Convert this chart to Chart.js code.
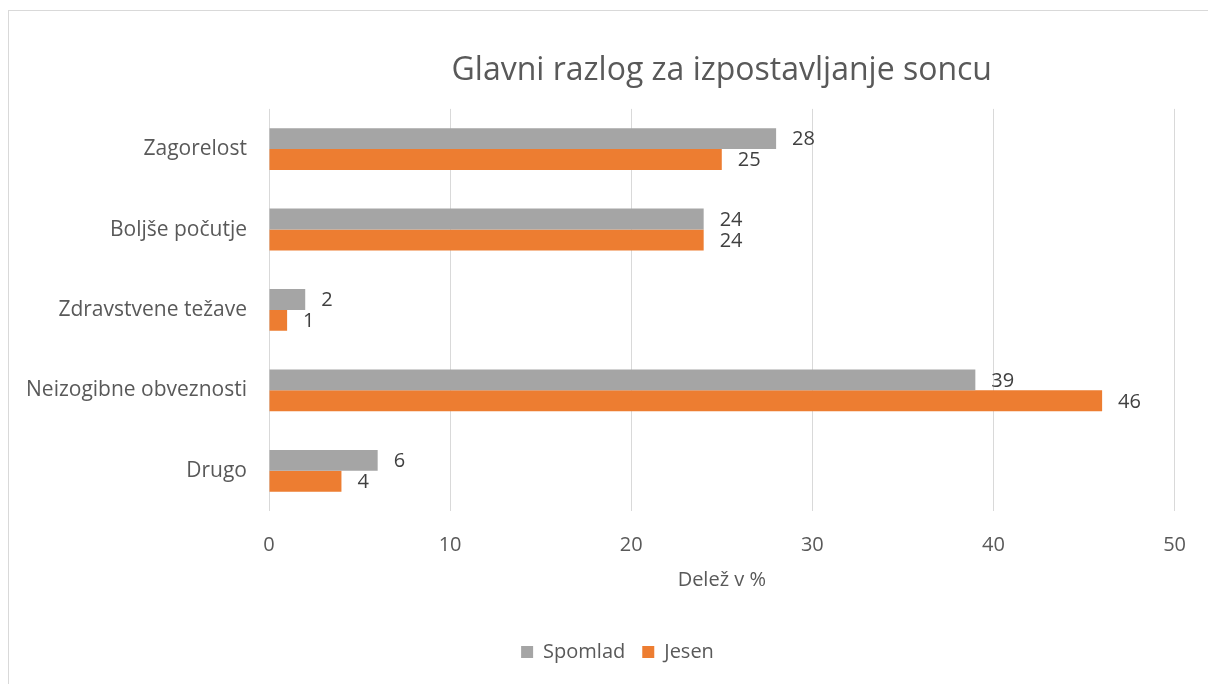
<!DOCTYPE html>
<html>
<head>
<meta charset="utf-8">
<script src="https://cdn.jsdelivr.net/npm/chart.js@4.4.1/dist/chart.umd.min.js"></script>
<style>
  html, body { margin: 0; padding: 0; background: #fff; overflow: hidden; }
  #frame { position: absolute; left: 8px; top: 10px; width: 1400px; height: 900px; border: 1px solid #d9d9d9; box-sizing: border-box; }
  #wrap { position: absolute; left: 0; top: 0; width: 1208px; height: 684px; }
</style>
</head>
<body>
<div id="frame"></div>
<div id="wrap"><canvas id="c" width="1208" height="684"></canvas></div>
<script>
const categories = ["Zagorelost", "Boljše počutje", "Zdravstvene težave", "Neizogibne obveznosti", "Drugo"];
const spomlad = [28, 24, 2, 39, 6];
const jesen = [25, 24, 1, 46, 4];
const seriesNames = ["Spomlad", "Jesen"];
const xTicks = [0, 10, 20, 30, 40, 50];
const chartTitle = "Glavni razlog za izpostavljanje soncu";
const xAxisTitle = "Delež v %";

const FONT = "'Open Sans', 'DejaVu Sans', sans-serif";
const TEXT = "#595959";

const dataLabels = {
  id: "dataLabels",
  afterDatasetsDraw(chart) {
    const ctx = chart.ctx;
    ctx.save();
    ctx.font = "20px " + FONT;
    ctx.fillStyle = "#404040";
    ctx.textAlign = "left";
    ctx.textBaseline = "middle";
    chart.data.datasets.forEach((ds, i) => {
      const meta = chart.getDatasetMeta(i);
      meta.data.forEach((el, j) => {
        ctx.fillText(String(ds.data[j]), el.x + 16, el.y + 1);
      });
    });
    ctx.restore();
  }
};

// nudge the bottom legend to the right, as in the original layout
const legendShift = {
  id: "legendShift",
  afterLayout(chart) {
    if (chart.legend) { chart.legend.left += 16; chart.legend.right += 16; }
  }
};

new Chart(document.getElementById("c"), {
  type: "bar",
  data: {
    labels: categories,
    datasets: [
      { label: seriesNames[0], data: spomlad, backgroundColor: "#A5A5A5", borderWidth: 0 },
      { label: seriesNames[1], data: jesen, backgroundColor: "#ED7D31", borderWidth: 0 }
    ]
  },
  options: {
    indexAxis: "y",
    responsive: false,
    animation: false,
    devicePixelRatio: 1,
    layout: { autoPadding: false, padding: { left: 20, right: 25, top: 0, bottom: 12 } },
    datasets: { bar: { barPercentage: 1.0, categoryPercentage: 0.52 } },
    scales: {
      x: {
        type: "linear",
        min: 0, max: 50,
        afterBuildTicks(scale) { scale.ticks = xTicks.map(v => ({ value: v })); },
        afterFit(scale) { scale.height = 114; },
        grid: { color: "#d9d9d9", lineWidth: 1, drawTicks: false },
        border: { display: false },
        ticks: { color: TEXT, font: { family: FONT, size: 20 }, padding: 22 },
        title: { display: true, text: xAxisTitle, color: TEXT, font: { family: FONT, size: 20 }, padding: { top: 10, bottom: 33 } }
      },
      y: {
        type: "category",
        afterFit(scale) { scale.width = 249; },
        grid: { display: false, drawTicks: false },
        border: { display: false },
        ticks: { color: TEXT, font: { family: FONT, size: 21 }, padding: 22 }
      }
    },
    plugins: {
      title: {
        display: true, text: chartTitle, fullSize: false,
        color: TEXT, font: { family: FONT, size: 32, weight: "normal" },
        padding: { top: 52, bottom: 18.5 }
      },
      legend: {
        position: "bottom",
        labels: { color: TEXT, font: { family: FONT, size: 20 }, boxWidth: 12, boxHeight: 12, padding: 17 }
      },
      tooltip: { enabled: false }
    }
  },
  plugins: [dataLabels, legendShift]
});
</script>
</body>
</html>
